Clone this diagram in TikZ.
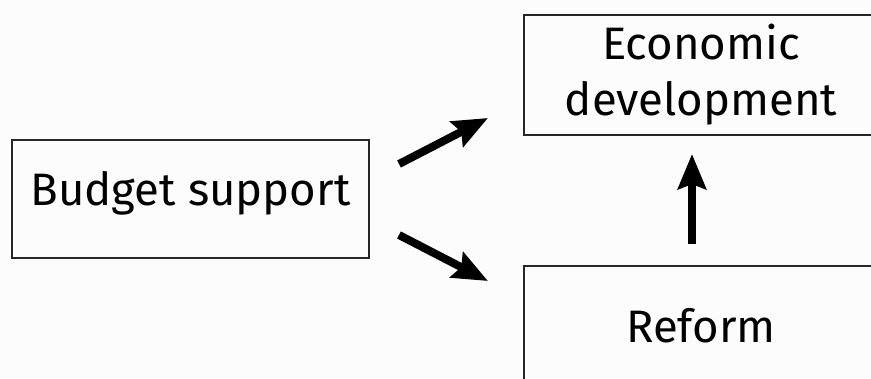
\documentclass[tikz,border=0pt]{standalone}
\usepackage{fontspec}
\setmainfont{Fira Sans}
\usetikzlibrary{arrows.meta}

\begin{document}
\begin{tikzpicture}[
  x=1pt, y=-1pt,
  box/.style={draw=black!85, line width=2pt, inner sep=0pt, align=center,
    font=\fontsize{45.5}{56}\selectfont},
  link/.style={line width=8pt, -{Stealth[length=35pt,width=28pt,inset=5pt]}}
]
  \useasboundingbox (0,0) rectangle (871,378);
  \clip (0,0) rectangle (871,378);
  \fill[black!1] (0,0) rectangle (871,378);
  \node[box, minimum width=357pt, minimum height=118pt, text depth=22pt] (budget) at (190.5,199) {Budget support};
  \node[box, minimum width=354pt, minimum height=120pt] (econ) at (701,75) {Economic\\development};
  \node[box, minimum width=354pt, minimum height=120pt] (reform) at (701,326) {Reform};
  \draw[link] ([shift={(29,25)}]budget.north east) -- ([shift={(-35,-18)}]econ.south west);
  \draw[link] ([shift={(29,-24)}]budget.south east) -- ([shift={(-35,16)}]reform.north west);
  \draw[link] ([shift={(-9,-21)}]reform.north) -- ([shift={(-9,18)}]econ.south);
\end{tikzpicture}
\end{document}
